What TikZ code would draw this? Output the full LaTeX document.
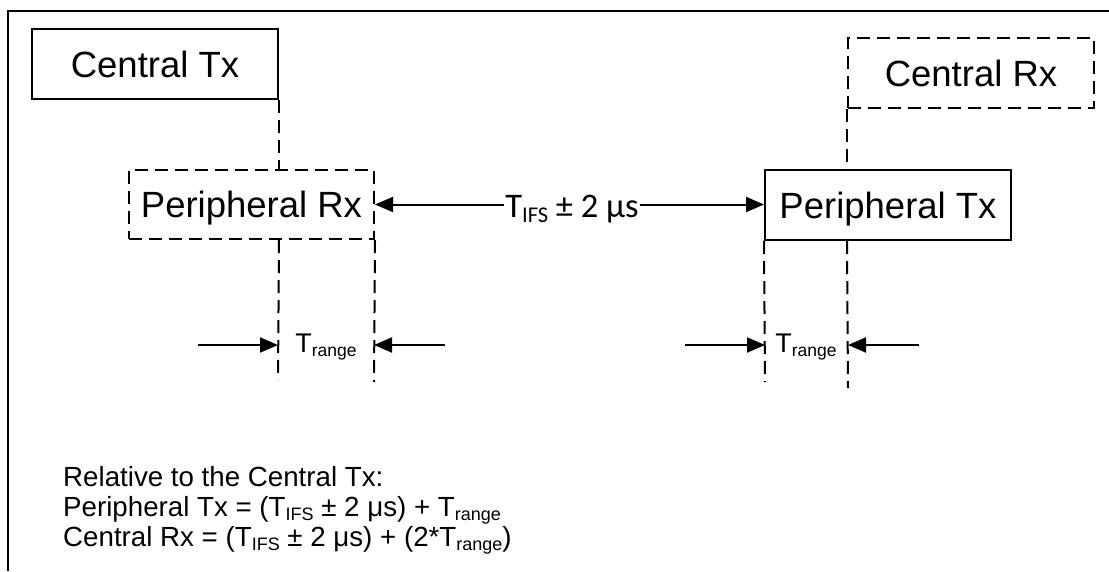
\documentclass[tikz,border=0pt]{standalone}
\usepackage{fontspec}
\setmainfont{Liberation Sans}
\newfontfamily\calib{Carlito}
\usetikzlibrary{arrows.meta}
\newcommand\lsub[2]{\raisebox{-0.17em}{\fontsize{#1}{#1}\selectfont #2}}
\tikzset{
  ln/.style={line width=2pt},
  dsh/.style={line width=2pt, dash pattern=on 13pt off 7pt},
  solidbox/.style={draw, line width=2pt, inner sep=0pt, minimum width=246pt, minimum height=70pt,
    font=\fontsize{36.5}{40}\selectfont, text height=26pt, text depth=0pt},
  dashbox/.style={solidbox, dash pattern=on 13pt off 7pt},
  tip/.style={-{Triangle[length=18pt,width=15pt]}, line width=2pt},
  lbl/.style={font=\fontsize{27}{30}\selectfont, inner sep=0pt, anchor=base},
  note/.style={font=\fontsize{27.7}{30}\selectfont, inner sep=0pt, anchor=base west}
}
\begin{document}
\begin{tikzpicture}[x=1pt,y=-1pt]
\useasboundingbox (0,0) rectangle (1109,571);
% frame
\coordinate (fbl) at (8,571);
\coordinate (ftl) at (8,11);
\coordinate (ftr) at (1109,11);
\draw[line width=2.5pt] (fbl) -- (ftl) -- (ftr);

% boxes
\node[solidbox] (ctx) at (155,64) {Central Tx};
\node[dashbox, minimum width=245pt, minimum height=69pt] (prx) at (251.5,204.5) {Peripheral Rx};
\node[dashbox] (crx) at (971,73) {Central Rx};
\node[solidbox] (ptx) at (888,205) {Peripheral Tx};

% vertical dashed guides
\coordinate (l1) at (278,380);
\coordinate (l2) at (374,382);
\coordinate (r1) at (765,382);
\coordinate (r2) at (848,388);
\draw[dsh] (ctx.south east) -- (ctx.south east |- prx.north);
\draw[dsh] (ctx.south east |- prx.south) -- (l1);
\draw[dsh] (prx.south east) -- (l2);
\draw[dsh] (crx.south west) -- (crx.south west |- ptx.north);
\draw[dsh] (crx.south west |- ptx.south) -- (r2);
\draw[dsh] (ptx.south west) -- (r1);

% T_IFS arrow
\draw[{Triangle[length=18pt,width=15pt]}-{Triangle[length=18pt,width=15pt]}, line width=2pt]
  (prx.east) -- (prx.east -| ptx.west);
\node[fill=white, inner xsep=1pt, inner ysep=2pt, anchor=base, font=\calib\fontsize{34.5}{38}\selectfont] (tifs) at (572,217)
  {T\lsub{22.5}{IFS} ± 2 μs};

% T_range arrows left
\coordinate (la) at (198,345);
\coordinate (lb) at (445,345);
\draw[tip] (la) -- (l1 |- la);
\draw[tip] (lb) -- (l2 |- lb);
\node[lbl] (trl) at (326,352) {T\lsub{17.5}{range}};

% T_range arrows right
\coordinate (ra) at (685,345);
\coordinate (rb) at (919,345);
\draw[tip] (ra) -- (r1 |- ra);
\draw[tip] (rb) -- (r2 |- rb);
\node[lbl] (trr) at (806,352) {T\lsub{17.5}{range}};

% notes
\node[note] (n1) at (63,486) {Relative to the Central Tx:};
\node[note] (n2) at (63,516) {Peripheral Tx = (T\lsub{18}{IFS} ± 2 μs) + T\lsub{18}{range}};
\node[note] (n3) at (63,546) {Central Rx = (T\lsub{18}{IFS} ± 2 μs) + (2*T\lsub{18}{range})};
\end{tikzpicture}
\end{document}
